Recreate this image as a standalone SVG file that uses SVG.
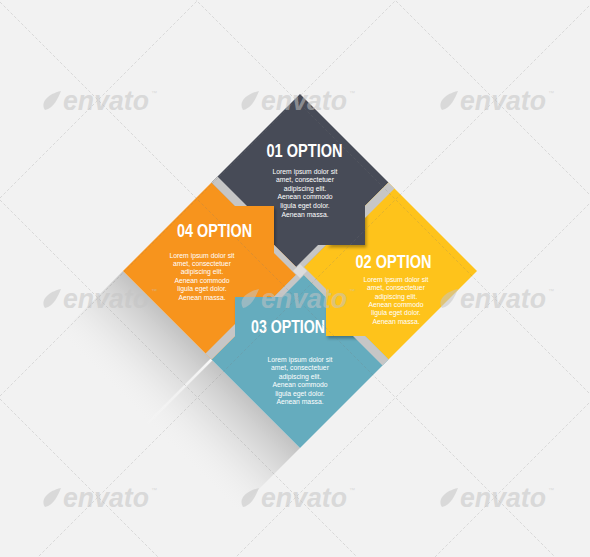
<svg xmlns="http://www.w3.org/2000/svg" width="590" height="557" viewBox="0 0 590 557">
<defs>
<style>
.t{font-family:"Liberation Sans",Arial,sans-serif;font-weight:bold;font-size:18.5px;fill:#fff;text-anchor:middle}
.b{font-family:"Liberation Sans",Arial,sans-serif;font-size:6.8px;fill:#fff;text-anchor:middle}
.band{fill:#c6c6c6}
.tabsh{fill:#000;fill-opacity:.3;filter:url(#blur)}
.wm{font-family:"Liberation Sans",Arial,sans-serif;font-weight:bold;font-style:italic;font-size:27px;fill:#c4c4c4;fill-opacity:.55}
.tm{font-family:"Liberation Sans",Arial,sans-serif;font-size:6px;fill:#c4c4c4;fill-opacity:.55}
.leaf{fill:#c4c4c4;fill-opacity:.55}
.lat{stroke:#7a7a7a;stroke-opacity:.35;stroke-width:.6;stroke-dasharray:3 2;fill:none}
</style>
<filter id="blur" x="-30%" y="-30%" width="160%" height="160%"><feGaussianBlur stdDeviation="1.5"/></filter>
<linearGradient id="ls" gradientUnits="userSpaceOnUse" x1="200" y1="348" x2="135" y2="413">
<stop offset="0" stop-color="#bdbdbd" stop-opacity=".9"/>
<stop offset="0.5" stop-color="#d6d6d6" stop-opacity=".5"/>
<stop offset="1" stop-color="#f2f2f2" stop-opacity="0"/>
</linearGradient>
<linearGradient id="st" gradientUnits="userSpaceOnUse" x1="211.5" y1="359.5" x2="145" y2="426">
<stop offset="0" stop-color="#fff" stop-opacity=".9"/>
<stop offset="1" stop-color="#fff" stop-opacity="0"/>
</linearGradient>
<clipPath id="cY"><polygon points="388.5,182.5 477,271 388.5,359.5 365,336 326,336 326,297 300,271 326,245 365,245 365,206"/></clipPath>
<clipPath id="cB"><polygon points="300,271 326,297 326,336 365,336 388.5,359.5 300,448 211.5,359.5 235,336 235,297 274,297"/></clipPath>
<clipPath id="cO"><polygon points="211.5,182.5 235,206 274,206 274,245 300,271 274,297 235,297 235,336 211.5,359.5 123,271"/></clipPath>
<clipPath id="cD"><polygon points="300,94 388.5,182.5 365,206 365,245 326,245 300,271 274,245 274,206 235,206 211.5,182.5"/></clipPath>
</defs>
<rect width="590" height="557" fill="#f2f2f2"/>
<g id="long-shadow">
<polygon points="123,271 211.5,359.5 111.5,459.5 23,371" fill="url(#ls)"/>
<polygon points="211.5,359.5 300,448 200,548 111.5,459.5" fill="url(#ls)"/>
<line x1="211.5" y1="359.5" x2="145" y2="426" stroke="url(#st)" stroke-width="2.5"/>
</g>
<g id="node-01">
<polygon points="300,94 388.5,182.5 365,206 365,245 326,245 300,271 274,245 274,206 235,206 211.5,182.5" fill="#474b57"/>
</g>
<g id="node-02">
<polygon points="388.5,182.5 477,271 388.5,359.5 365,336 326,336 326,297 300,271 326,245 365,245 365,206" fill="#fec31b"/>
</g>
<g id="node-03">
<polygon points="300,271 326,297 326,336 365,336 388.5,359.5 300,448 211.5,359.5 235,336 235,297 274,297" fill="#65acbe"/>
</g>
<g id="node-04">
<polygon points="211.5,182.5 235,206 274,206 274,245 300,271 274,297 235,297 235,336 211.5,359.5 123,271" fill="#f7941d"/>
</g>
<g id="folds">
<g clip-path="url(#cY)"><polygon class="tabsh" points="366.5,208.5 366.5,247.5 327.5,247.5"/></g>
<g clip-path="url(#cB)"><polygon class="tabsh" points="327.5,299.5 327.5,338.5 366.5,338.5"/></g>
<g clip-path="url(#cO)"><polygon class="tabsh" points="236.5,338.5 236.5,299.5 275.5,299.5"/></g>
<g clip-path="url(#cD)"><polygon class="tabsh" points="236.5,208.5 275.5,208.5 275.5,247.5"/></g>
<polygon class="band" points="211.5,182.5 235,206 247,206 217.5,176.5"/>
<polygon class="band" points="388.5,182.5 365,206 365,218 394.5,188.5"/>
<polygon class="band" points="388.5,359.5 365,336 353,336 382.5,365.5"/>
<polygon class="band" points="211.5,359.5 235,336 235,324 205.5,353.5"/>
<polygon class="band" points="274,245 300,271 296,275 274,253"/>
<polygon class="band" points="326,245 300,271 296,267 318,245"/>
<polygon class="band" points="326,297 300,271 304,267 326,289"/>
<polygon class="band" points="274,297 300,271 304,275 282,297"/>
<polygon points="300,264 307,271 300,278 293,271" fill="#dcdcdc"/>
</g>
<g id="texts">
<text class="t" x="304.5" y="157" textLength="76" lengthAdjust="spacingAndGlyphs">01 OPTION</text>
<text class="b" x="305" y="173.5"><tspan x="305">Lorem ipsum dolor sit</tspan><tspan x="305" dy="8.6">amet, consectetuer</tspan><tspan x="305" dy="8.6">adipiscing elit.</tspan><tspan x="305" dy="8.6">Aenean commodo</tspan><tspan x="305" dy="8.6">ligula eget dolor.</tspan><tspan x="305" dy="8.6">Aenean massa.</tspan></text>
<text class="t" x="393.5" y="268.3" textLength="76" lengthAdjust="spacingAndGlyphs">02 OPTION</text>
<text class="b" x="396" y="281.8"><tspan x="396">Lorem ipsum dolor sit</tspan><tspan x="396" dy="8.4">amet, consectetuer</tspan><tspan x="396" dy="8.4">adipiscing elit.</tspan><tspan x="396" dy="8.4">Aenean commodo</tspan><tspan x="396" dy="8.4">ligula eget dolor.</tspan><tspan x="396" dy="8.4">Aenean massa.</tspan></text>
<text class="t" x="288" y="332.7" textLength="74" lengthAdjust="spacingAndGlyphs">03 OPTION</text>
<text class="b" x="300" y="361.8"><tspan x="300">Lorem ipsum dolor sit</tspan><tspan x="300" dy="8.5">amet, consectetuer</tspan><tspan x="300" dy="8.5">adipiscing elit.</tspan><tspan x="300" dy="8.5">Aenean commodo</tspan><tspan x="300" dy="8.5">ligula eget dolor.</tspan><tspan x="300" dy="8.5">Aenean massa.</tspan></text>
<text class="t" x="214.5" y="236.7" textLength="75" lengthAdjust="spacingAndGlyphs">04 OPTION</text>
<text class="b" x="202" y="257.5"><tspan x="202">Lorem ipsum dolor sit</tspan><tspan x="202" dy="8.4">amet, consectetuer</tspan><tspan x="202" dy="8.4">adipiscing elit.</tspan><tspan x="202" dy="8.4">Aenean commodo</tspan><tspan x="202" dy="8.4">ligula eget dolor.</tspan><tspan x="202" dy="8.4">Aenean massa.</tspan></text>
</g>
<g id="watermark">
<g class="lat">
<line x1="0" y1="399" x2="590" y2="989"/>
<line x1="0" y1="200" x2="590" y2="790"/>
<line x1="0" y1="2" x2="590" y2="592"/>
<line x1="0" y1="-196" x2="590" y2="394"/>
<line x1="0" y1="-395" x2="590" y2="195"/>
<line x1="0" y1="198" x2="590" y2="-392"/>
<line x1="0" y1="396" x2="590" y2="-194"/>
<line x1="0" y1="595" x2="590" y2="5"/>
<line x1="0" y1="793" x2="590" y2="203"/>
<line x1="0" y1="992" x2="590" y2="402"/>
</g>
<g transform="translate(98,100)"><path class="leaf" d="M-53,10 C-58,2 -50,-6 -37,-9 C-40,-2 -44,8 -53,10 Z"/><text class="wm" x="-35" y="10" textLength="86" lengthAdjust="spacingAndGlyphs">envato</text><text class="tm" x="53" y="-5">™</text></g>
<g transform="translate(296,100)"><path class="leaf" d="M-53,10 C-58,2 -50,-6 -37,-9 C-40,-2 -44,8 -53,10 Z"/><text class="wm" x="-35" y="10" textLength="86" lengthAdjust="spacingAndGlyphs">envato</text><text class="tm" x="53" y="-5">™</text></g>
<g transform="translate(495,100)"><path class="leaf" d="M-53,10 C-58,2 -50,-6 -37,-9 C-40,-2 -44,8 -53,10 Z"/><text class="wm" x="-35" y="10" textLength="86" lengthAdjust="spacingAndGlyphs">envato</text><text class="tm" x="53" y="-5">™</text></g>
<g transform="translate(98,298)"><path class="leaf" d="M-53,10 C-58,2 -50,-6 -37,-9 C-40,-2 -44,8 -53,10 Z"/><text class="wm" x="-35" y="10" textLength="86" lengthAdjust="spacingAndGlyphs">envato</text><text class="tm" x="53" y="-5">™</text></g>
<g transform="translate(296,298)"><path class="leaf" d="M-53,10 C-58,2 -50,-6 -37,-9 C-40,-2 -44,8 -53,10 Z"/><text class="wm" x="-35" y="10" textLength="86" lengthAdjust="spacingAndGlyphs">envato</text><text class="tm" x="53" y="-5">™</text></g>
<g transform="translate(495,298)"><path class="leaf" d="M-53,10 C-58,2 -50,-6 -37,-9 C-40,-2 -44,8 -53,10 Z"/><text class="wm" x="-35" y="10" textLength="86" lengthAdjust="spacingAndGlyphs">envato</text><text class="tm" x="53" y="-5">™</text></g>
<g transform="translate(98,497)"><path class="leaf" d="M-53,10 C-58,2 -50,-6 -37,-9 C-40,-2 -44,8 -53,10 Z"/><text class="wm" x="-35" y="10" textLength="86" lengthAdjust="spacingAndGlyphs">envato</text><text class="tm" x="53" y="-5">™</text></g>
<g transform="translate(296,497)"><path class="leaf" d="M-53,10 C-58,2 -50,-6 -37,-9 C-40,-2 -44,8 -53,10 Z"/><text class="wm" x="-35" y="10" textLength="86" lengthAdjust="spacingAndGlyphs">envato</text><text class="tm" x="53" y="-5">™</text></g>
<g transform="translate(495,497)"><path class="leaf" d="M-53,10 C-58,2 -50,-6 -37,-9 C-40,-2 -44,8 -53,10 Z"/><text class="wm" x="-35" y="10" textLength="86" lengthAdjust="spacingAndGlyphs">envato</text><text class="tm" x="53" y="-5">™</text></g>
</g>
</svg>
